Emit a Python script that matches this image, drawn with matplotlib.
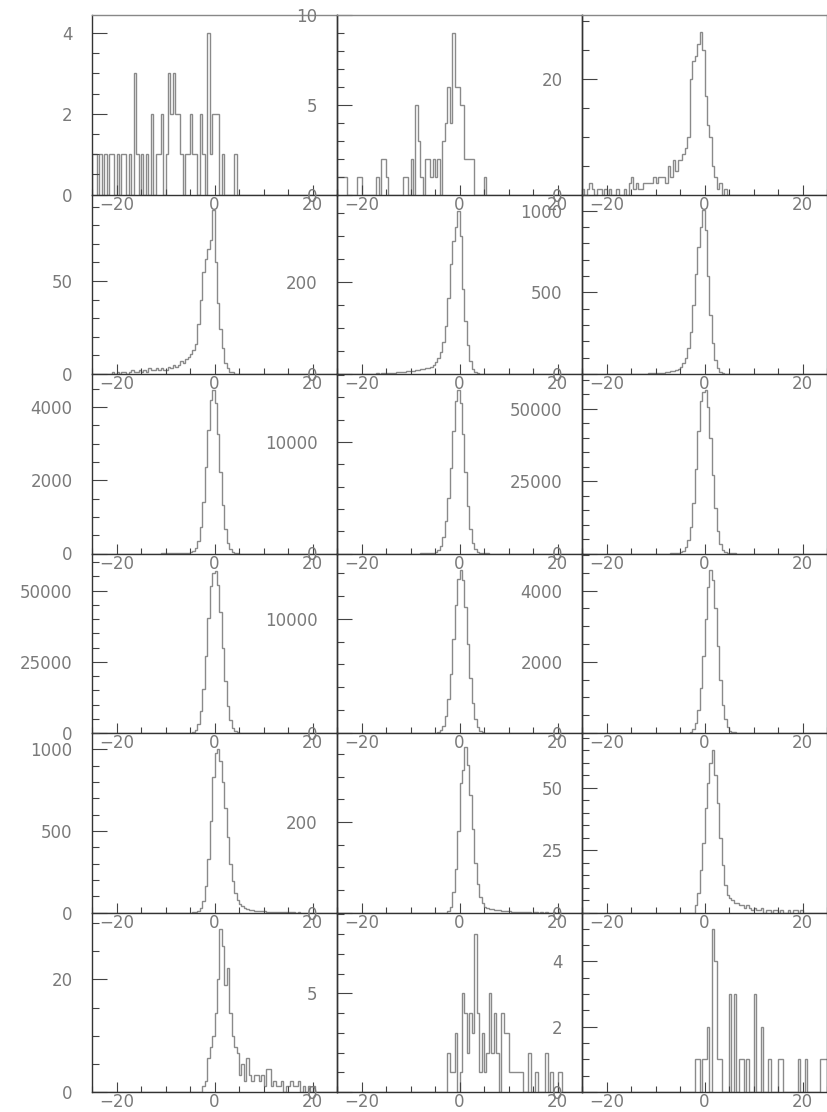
import numpy as np
import matplotlib
matplotlib.use('Agg')
import matplotlib.pyplot as plt
from matplotlib.ticker import MultipleLocator

# bin edges: 100 bins of 0.5 from -25 to 25
edges = np.arange(-25, 25.01, 0.5)

# counts per panel: first bin index + bin contents (row, column)
h00_first = 0
h00 = [1,1,0,1,0,1,0,1,1,0, 1,0,1,1,0,1,0,3,1,0, 1,0,1,0,2,0,1,1,2,0,
       1,3,2,3,2,2,1,0,1,1, 2,1,1,0,2,1,0,4,1,2, 2,2,0,1,0,0,0,0,1]
h01_first = 0
h01 = [1,1,1,1,0,0,0,0,1,1, 0,0,0,0,0,0,1,0,2,2, 1,0,0,0,0,0,0,1,1,0,
       2,0,5,3,1,0,2,2,1,2, 1,2,0,3,4,6,4,9,6,6, 5,5,2,2,2,2,0,0,0,0, 1]
h02_first = 0
h02 = [1,0,1,2,1,0,1,1,0,1, 0,1,0,0,1,0,0,1,0,2, 3,1,2,1,1,2,2,2,2,3,
       2,3,3,3,2,5,3,6,4,6, 6,7,8,10,20,23,24,26,28,25, 17,12,10,5,3,1,2,0,1]

h10_first = 8
h10 = [1,0,1,0,1,1,0,1,2,1, 1,2,1,2,1,3,2,2,3,2, 3,2,
       2,4,3,5,4,5,7,6,8,9, 11,13,16,27,40,55,62,67,72,88, 60,38,24,14,6,3,1,1]
h11_first = 10
h11 = [1,1,0,1,1,1,2,1,2,2, 2,3,3,3,4,4,5,5,6,6, 7,7,8,9,10,10,12,14,16,20,
       27,35,48,70,105,165,240,290,320,354, 300,185,115,62,28,10,4,2,1]
h12_first = 16
h12 = [1,0,1,1, 1,1,2,2,2,3,3,4,4,5, 5,6,8,9,11,13,16,20,25,33,
       45,65,100,160,260,420,610,780,900,1005, 880,600,360,190,85,35,12,4,1]

h20_first = 28
h20 = [1,2,2,3,4,5,6,8,10,14,18,25,
       40,70,150,330,720,1400,2350,3380,4180,4460,
       4100,3250,2230,1320,680,300,115,38,10,3]
h21_first = 34
h21 = [3,6,12,22,38,60,
       120,300,700,1500,2950,5000,7700,11000,13700,14660,
       13500,10700,7300,4300,2200,960,360,120,35,10, 3,1]
h22_first = 36
h22 = [10,30,80,190,
       430,1000,2200,4500,9200,17500,29300,42300,52600,55800,
       56500,50500,40000,27200,15800,7800,3300,1200,400,110, 30,8,2]

h30_first = 38
h30 = [5,25,
       100,350,1100,3100,7600,15500,27000,40500,51500,56000,
       57000,52000,42500,29800,18300,9600,4400,1800,700,260, 90,30,10,3,1]
h31_first = 39
h31 = [5,
       20,70,220,620,1500,3000,5200,8200,11200,13500,
       14300,13400,11000,7800,4800,2600,1250,540,210,80, 30,15,8,5,3,2,1,1]
h32_first = 42
h32 = [3,10,35,110,290,640,1250,2150,
       3200,4100,4580,4300,3500,2450,1500,800,380,160,
       70,35,20,12,8,5,4,3,2,1]

h40_first = 41
h40 = [1,4,10,28,70,160,330,560,830,
       980,1005,930,800,640,460,300,190,120,78,
       52,38,29,23,18,15,12,10,9,8, 7,6,5,4,4,3,3,2,2,2, 1,1,1,0,1]
h41_first = 45
h41 = [3,12,45,95,180, 285,315,365,325,260,185,110,62,35,20,
       12,9,8,7,6,5,5,4,3,3, 3,2,2,2,1,2,1,1,1,0, 1,1,0,1,0,1,0,0,1,0, 1]
h42_first = 46
h42 = [3,8,17,28, 42,52,60,65,55,44,30,19,11,7,
       6,5,4,4,3,3,2,3,2,1, 2,1,1,2,0,1,1,0,1,1, 0,1,0,0,1,0,1,1,0,1,0]

h50_first = 45
h50 = [1,2,6,8,10, 14,20,29,26,19,22,14,10,8,7, 3,5,2,6,3,2,3,3,2,3,
       1,4,4,1,2,1,1,2,0,1, 1,2,1,1,2,0,1,0,1,0, 1]
h51_first = 45
h51 = [2,1,1,3,0, 1,5,4,2,4,3,8,4,1,3, 1,2,5,2,4,2,0,4,3,3,
       1,1,1,1,1,1,0,0,2,0, 0,1,0,0,0,2,0,1,0,0, 1,1]
h52_first = 46
h52 = [1,1,0,1, 1,2,0,5,4,1,1,0,0,0, 3,0,3,0,1,1,0,1,0,0,
       3,0,0,2,0,0,1,0,0,0, 1,1,0,0,0,0,0,0,1,0, 0,1,0,0,0,0,0,1,1,1]

firsts = [[h00_first, h01_first, h02_first], [h10_first, h11_first, h12_first],
          [h20_first, h21_first, h22_first], [h30_first, h31_first, h32_first],
          [h40_first, h41_first, h42_first], [h50_first, h51_first, h52_first]]
hists = [[h00, h01, h02], [h10, h11, h12], [h20, h21, h22],
         [h30, h31, h32], [h40, h41, h42], [h50, h51, h52]]

ymax = [[4.45, 10.0, 31.0], [96.5, 390, 1100], [4900, 16100, 62000],
        [63000, 15700, 5040], [1100, 396, 72], [31.9, 9.1, 5.5]]
ymajor = [[2, 5, 20], [50, 200, 500], [2000, 10000, 25000],
          [25000, 10000, 2000], [500, 200, 25], [20, 5, 2]]
yminor = [[0.5, 1, 5], [10, 50, 100], [500, 2000, 5000],
          [5000, 2000, 500], [100, 50, 5], [5, 1, 0.5]]

W, H = 827, 1112
fig = plt.figure(figsize=(W/100, H/100), dpi=100, facecolor='w')

x0, pw = 92, 245
y0, ph = 15, 179.5
lab_col = '#7a7a7a'

for r in range(6):
    for c in range(3):
        left = (x0 + c*pw)/W
        bottom = 1 - (y0 + (r+1)*ph)/H
        ax = fig.add_axes([left, bottom, pw/W, ph/H])
        ax.patch.set_visible(False)
        counts = np.zeros(len(edges)-1)
        f = firsts[r][c]
        counts[f:f+len(hists[r][c])] = hists[r][c]
        ax.stairs(counts, edges, color='#8a8a8a', lw=1.0)
        ax.set_xlim(-25, 25)
        ax.set_ylim(0, ymax[r][c])
        ax.xaxis.set_major_locator(MultipleLocator(20))
        ax.xaxis.set_minor_locator(MultipleLocator(5))
        ax.yaxis.set_major_locator(MultipleLocator(ymajor[r][c]))
        ax.yaxis.set_minor_locator(MultipleLocator(yminor[r][c]))
        ax.tick_params(axis='x', which='major', direction='in', length=7, width=0.8,
                       color='#444', labelsize=12, labelcolor=lab_col, pad=1)
        ax.tick_params(axis='x', which='minor', direction='in', length=4, width=0.8, color='#444')
        ax.tick_params(axis='y', which='major', direction='in', length=11, width=0.8,
                       color='#444', labelsize=12, labelcolor=lab_col, pad=14)
        ax.tick_params(axis='y', which='minor', direction='in', length=5, width=0.8, color='#444')
        for s in ax.spines.values():
            s.set_color('#333')
            s.set_linewidth(1.0)
        if r == 0:
            ax.spines['top'].set_color('#888')
        else:
            ax.spines['top'].set_visible(False)

plt.savefig('out.png', dpi=100)
